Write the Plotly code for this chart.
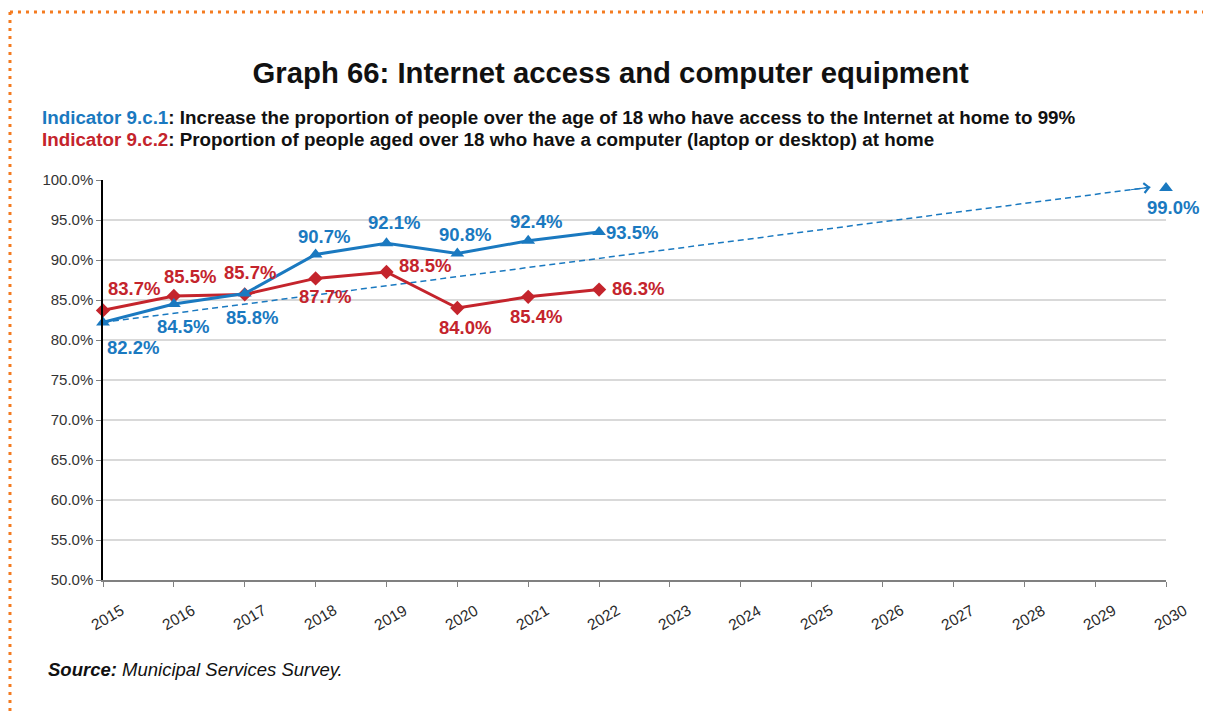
import plotly.graph_objects as go

years = [2015, 2016, 2017, 2018, 2019, 2020, 2021, 2022]
internet_access = [82.2, 84.5, 85.8, 90.7, 92.1, 90.8, 92.4, 93.5]
computer_home = [83.7, 85.5, 85.7, 87.7, 88.5, 84.0, 85.4, 86.3]
target_year = [2030]
target_value = [99.0]
trend_x = [2015, 2029.78]
trend_y = [82.2, 99.1]
tick_years = list(range(2015, 2031))

BLUE = "#1a79c0"
RED = "#c4242c"
FONT = "Liberation Sans, Arial, Helvetica, sans-serif"

# label offsets in pixels (dx, dy) – styling only
blue_off = [(30, 25), (9, 22), (7, 24), (8, -18), (8, -21), (8, -19), (8, -19), (33, 0)]
red_off = [(31, -22), (16, -20), (5, -22), (9, 18), (39, -7), (8, 19), (8, 20), (39, -1)]
target_off = [(7, 19)]

fig = go.Figure()

# dashed trend line
fig.add_trace(go.Scatter(x=trend_x, y=trend_y, mode="lines",
                         line=dict(color=BLUE, width=1.5, dash="6px,4px"),
                         hoverinfo="skip", showlegend=False, cliponaxis=False))

fig.add_trace(go.Scatter(x=years, y=computer_home, mode="lines+markers",
                         line=dict(color=RED, width=3),
                         marker=dict(symbol="diamond", size=11, color=RED),
                         showlegend=False, cliponaxis=False))

fig.add_trace(go.Scatter(x=years, y=internet_access, mode="lines+markers",
                         line=dict(color=BLUE, width=3),
                         marker=dict(symbol="triangle-up", size=12, color=BLUE),
                         showlegend=False, cliponaxis=False))

fig.add_trace(go.Scatter(x=target_year, y=target_value, mode="markers",
                         marker=dict(symbol="triangle-up", size=12, color=BLUE),
                         showlegend=False, cliponaxis=False))

annotations = []
LSIZE = 18.5
for xv, yv, (dx, dy) in zip(years, internet_access, blue_off):
    annotations.append(dict(x=xv, y=yv, text=f"<b>{yv:.1f}%</b>", showarrow=False,
                            xshift=dx, yshift=-dy, font=dict(family=FONT, size=LSIZE, color=BLUE)))
for xv, yv, (dx, dy) in zip(years, computer_home, red_off):
    annotations.append(dict(x=xv, y=yv, text=f"<b>{yv:.1f}%</b>", showarrow=False,
                            xshift=dx, yshift=-dy, font=dict(family=FONT, size=LSIZE, color=RED)))
for xv, yv, (dx, dy) in zip(target_year, target_value, target_off):
    annotations.append(dict(x=xv, y=yv, text=f"<b>{yv:.1f}%</b>", showarrow=False,
                            xshift=dx, yshift=-dy, font=dict(family=FONT, size=LSIZE, color=BLUE)))

# arrow head at end of trend line
annotations.append(dict(x=trend_x[1], y=trend_y[1], ax=trend_x[1] - 0.3,
                        ay=trend_y[1] - 0.3 * (trend_y[1] - trend_y[0]) / (trend_x[1] - trend_x[0]),
                        xref="x", yref="y", axref="x", ayref="y", text="",
                        showarrow=True, arrowhead=4, arrowsize=1.6, arrowwidth=1.2,
                        arrowcolor=BLUE, standoff=0))

# rotated x tick labels (centered under ticks)
for yr in tick_years:
    annotations.append(dict(x=yr, y=-0.0925, xref="x", yref="paper", text=str(yr),
                            showarrow=False, textangle=-30, xshift=4,
                            xanchor="center", yanchor="middle",
                            font=dict(family=FONT, size=15.5, color="#2a2a2a")))

# subtitles
annotations.append(dict(xref="paper", yref="paper", x=-0.0593, y=1.1575,
                        xanchor="left", yanchor="middle", showarrow=False,
                        text=f"<b><span style='color:{BLUE}'>Indicator 9.c.1</span>: Increase the proportion of people over the age of 18 who have access to the Internet at home to 99%</b>",
                        font=dict(family=FONT, size=18.8, color="#111111")))
annotations.append(dict(xref="paper", yref="paper", x=-0.0593, y=1.1025,
                        xanchor="left", yanchor="middle", showarrow=False,
                        text=f"<b><span style='color:{RED}'>Indicator 9.c.2</span>: Proportion of people aged over 18 who have a computer (laptop or desktop) at home</b>",
                        font=dict(family=FONT, size=18.8, color="#111111")))
# source
annotations.append(dict(xref="paper", yref="paper", x=-0.0536, y=-0.2225,
                        xanchor="left", yanchor="middle", showarrow=False,
                        text="<b><i>Source:</i></b><i> Municipal Services Survey.</i>",
                        font=dict(family=FONT, size=18.5, color="#111111")))

shapes = [
    dict(type="line", xref="paper", yref="paper", x0=-0.0875, x1=1.05, y0=1.42, y1=1.42,
         line=dict(color="#f47b20", width=3, dash="3px,5px")),
    dict(type="line", xref="paper", yref="paper", x0=-0.0875, x1=-0.0875, y0=1.42, y1=-0.36,
         line=dict(color="#f47b20", width=3, dash="3px,5px")),
]

fig.update_layout(
    width=1203, height=708,
    margin=dict(l=95, r=45, t=172, b=136),
    paper_bgcolor="white", plot_bgcolor="white",
    title=dict(text="<b>Graph 66: Internet access and computer equipment</b>",
               xref="container", yref="container", x=0.501, y=0.908,
               xanchor="center", yanchor="middle",
               font=dict(family=FONT, size=29.3, color="#111111")),
    annotations=annotations,
    shapes=shapes,
    font=dict(family=FONT),
)

fig.update_xaxes(range=[2015, 2030], tickmode="array", tickvals=tick_years,
                 showticklabels=False,
                 showgrid=False, showline=True, linecolor="#808080", linewidth=1.5,
                 ticks="outside", ticklen=5, tickcolor="#808080", zeroline=False)
fig.update_yaxes(range=[50, 100], dtick=5, tickformat=".1f", ticksuffix="%",
                 showgrid=True, gridcolor="#d9d9d9", gridwidth=1.5,
                 showline=True, linecolor="#000000", linewidth=1.5,
                 ticks="outside", ticklen=5, tickcolor="#808080",
                 tickfont=dict(family=FONT, size=15, color="#333333"), zeroline=False)

fig.write_html("out.html")
